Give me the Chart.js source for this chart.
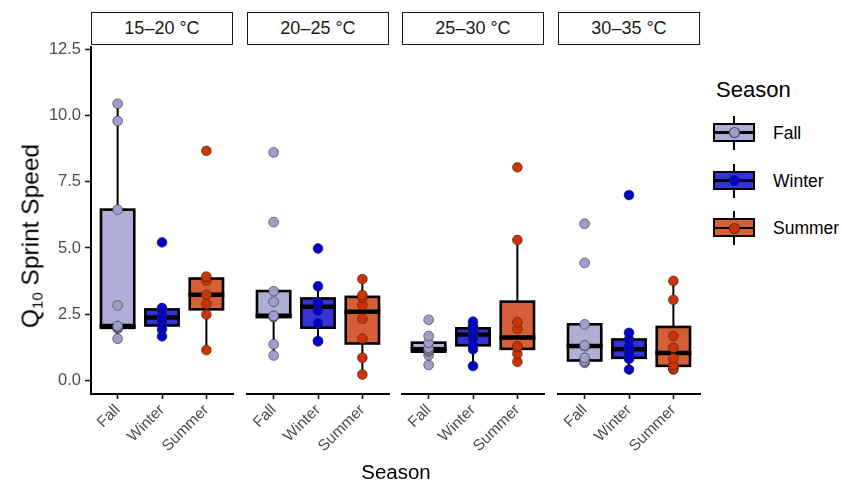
<!DOCTYPE html>
<html>
<head>
<meta charset="utf-8">
<script src="https://cdn.jsdelivr.net/npm/chart.js@4.4.1/dist/chart.umd.min.js"></script>
<style>
  html, body { margin: 0; padding: 0; background: #fff; }
  #wrap { position: relative; width: 842px; height: 488px; overflow: hidden; background: #fff;
          font-family: "Liberation Sans", Arial, sans-serif; }
  canvas.cv { position: absolute; }
  .strip { position: absolute; top: 12px; height: 33px; box-sizing: border-box; border: 1.6px solid #1a1a1a;
           background: #fff; display: flex; align-items: center; justify-content: center;
           font-size: 18px; color: #1a1a1a; }
  .ytitle { position: absolute; left: 31px; top: 236px; transform: translate(-50%, -50%) rotate(-90deg);
            white-space: nowrap; font-size: 24.5px; color: #000; }
  .ytitle sub { font-size: 15px; vertical-align: -4px; }
  .xtitle { position: absolute; left: 396px; top: 472px; transform: translate(-50%, -50%);
            font-size: 20.5px; color: #000; }
  .legtitle { position: absolute; left: 716px; top: 90px; transform: translateY(-50%); font-size: 22px; color: #000; }
  .legkey { position: absolute; width: 42px; height: 34px; }
  .legkey .wh { position: absolute; left: 20px; width: 2px; top: 0; height: 34px; background: #000; }
  .legkey .bx { position: absolute; left: 0; top: 7px; width: 42px; height: 19px; box-sizing: border-box; border: 2.5px solid #000; }
  .legkey .md { position: absolute; left: 0; top: 15.5px; width: 42px; height: 2.5px; background: #000; }
  .legkey .pt { position: absolute; left: 15.5px; top: 11.5px; width: 11px; height: 11px; box-sizing: border-box;
                border-radius: 50%; border: 1px solid rgba(40,40,40,0.75); }
  .leglab { position: absolute; left: 773px; transform: translateY(-50%); font-size: 17.5px; color: #000; }
</style>
</head>
<body>
<div id="wrap"></div>
<script>
// ---------------- data ----------------
const seasons = ['Fall', 'Winter', 'Summer'];
const tempRanges = ['15–20 °C', '20–25 °C', '25–30 °C', '30–35 °C'];
const yTicks = [0, 2.5, 5, 7.5, 10, 12.5];

// Q10 sprint speed per temperature range (one inner array per facet)
const fallQ10 = [
  [1.57, 1.95, 1.98, 2.02, 2.05, 2.83, 6.45, 9.8, 10.45],
  [0.93, 1.35, 2.37, 2.40, 2.42, 2.95, 3.35, 5.94, 8.56],
  [0.57, 0.94, 1.07, 1.12, 1.16, 1.22, 1.41, 1.66, 2.27],
  [0.65, 0.70, 0.74, 0.84, 1.28, 1.31, 2.10, 4.41, 5.88]
];
const winterQ10 = [
  [1.66, 1.92, 2.12, 2.30, 2.44, 2.66, 2.73, 5.21],
  [1.46, 1.47, 2.14, 2.62, 2.90, 2.92, 3.53, 4.95],
  [0.53, 1.16, 1.31, 1.57, 1.72, 1.82, 1.95, 2.04, 2.20],
  [0.40, 0.80, 0.84, 1.03, 1.16, 1.26, 1.53, 1.78, 6.96]
];
const summerQ10 = [
  [1.14, 2.48, 2.88, 3.23, 3.77, 3.92, 8.67],
  [0.21, 0.84, 1.56, 2.31, 2.83, 3.11, 3.20, 3.80],
  [0.69, 0.99, 1.24, 1.28, 1.92, 2.18, 5.27, 8.00],
  [0.40, 0.44, 0.57, 0.82, 1.22, 1.66, 3.02, 3.73]
];
const seriesValues = [fallQ10, winterQ10, summerQ10];

// ---------------- styles ----------------
const boxFill   = ['#b0aed6', '#3434d6', '#d65f38'];
const pointFill = ['#a09dcc', '#0000cc', '#cc3300'];

// ---------------- helpers ----------------
function quantile(sorted, p) {
  const h = (sorted.length - 1) * p;
  const lo = Math.floor(h), hi = Math.ceil(h);
  return sorted[lo] + (h - lo) * (sorted[hi] - sorted[lo]);
}
function boxStats(values) {
  const s = values.slice().sort((a, b) => a - b);
  const q1 = quantile(s, 0.25), med = quantile(s, 0.5), q3 = quantile(s, 0.75);
  const iqr = q3 - q1;
  const lo = s.filter(v => v >= q1 - 1.5 * iqr);
  const hi = s.filter(v => v <= q3 + 1.5 * iqr);
  return { q1, med, q3, wlo: Math.min(...lo), whi: Math.max(...hi) };
}

const boxPlugin = {
  id: 'boxes',
  beforeDatasetsDraw(chart) {
    const { ctx, scales: { x, y } } = chart;
    ctx.save();
    chart.data.datasets.forEach((ds) => {
      const st = ds.stats;
      const xc = x.getPixelForValue(ds.xPos);
      const xl = x.getPixelForValue(ds.xPos - 0.375);
      const xr = x.getPixelForValue(ds.xPos + 0.375);
      const yq1 = y.getPixelForValue(st.q1), yq3 = y.getPixelForValue(st.q3);
      const ym = y.getPixelForValue(st.med);
      ctx.strokeStyle = '#000';
      ctx.lineCap = 'butt';
      ctx.lineWidth = 2;
      ctx.beginPath();
      ctx.moveTo(xc, y.getPixelForValue(st.whi)); ctx.lineTo(xc, yq3);
      ctx.moveTo(xc, yq1); ctx.lineTo(xc, y.getPixelForValue(st.wlo));
      ctx.stroke();
      ctx.fillStyle = ds.boxColor;
      ctx.fillRect(xl, yq3, xr - xl, yq1 - yq3);
      ctx.lineWidth = 2.6;
      ctx.strokeRect(xl, yq3, xr - xl, yq1 - yq3);
      ctx.lineWidth = 4.5;
      ctx.beginPath();
      ctx.moveTo(xl - 1.3, ym); ctx.lineTo(xr + 1.3, ym);
      ctx.stroke();
    });
    ctx.restore();
  }
};

// ---------------- layout ----------------
const wrap = document.getElementById('wrap');
const panelLeft = [91, 247, 402, 558];
const panelW = 142;
const canvasTop = 33, canvasH = 431, padTop = 12, xAxisH = 70; // chart area: 45 .. 394

tempRanges.forEach((label, p) => {
  const strip = document.createElement('div');
  strip.className = 'strip';
  strip.style.left = panelLeft[p] + 'px';
  strip.style.width = panelW + 'px';
  strip.textContent = label;
  wrap.appendChild(strip);

  const first = p === 0;
  const padL = first ? 0 : 8, padR = 8;
  const cLeft = first ? 0 : panelLeft[p] - padL;
  const cW = first ? panelLeft[0] + panelW + padR : panelW + padL + padR;

  const cv = document.createElement('canvas');
  cv.className = 'cv';
  cv.width = cW; cv.height = canvasH;
  cv.style.left = cLeft + 'px'; cv.style.top = canvasTop + 'px';
  cv.style.width = cW + 'px'; cv.style.height = canvasH + 'px';
  wrap.appendChild(cv);

  const datasets = seasons.map((s, k) => ({
    label: s,
    data: seriesValues[k][p].map(v => ({ x: k + 1, y: v })),
    xPos: k + 1,
    stats: boxStats(seriesValues[k][p]),
    boxColor: boxFill[k],
    backgroundColor: pointFill[k],
    borderColor: 'rgba(40,40,40,0.7)',
    borderWidth: 0.8,
    pointRadius: 4.9,
    pointHoverRadius: 4.9,
    showLine: false
  }));

  new Chart(cv, {
    type: 'scatter',
    data: { datasets },
    plugins: [boxPlugin],
    options: {
      responsive: false,
      devicePixelRatio: 1,
      animation: false,
      events: [],
      layout: { padding: { top: padTop, bottom: 0, left: padL, right: padR } },
      plugins: { legend: { display: false }, tooltip: { enabled: false } },
      scales: {
        x: {
          type: 'linear', min: 0.4, max: 3.6,
          afterBuildTicks: (sc) => { sc.ticks = [1, 2, 3].map(v => ({ value: v })); },
          afterFit: (sc) => { sc.height = xAxisH; },
          grid: { display: true, drawOnChartArea: false, drawTicks: true, tickLength: 5, tickColor: '#1a1a1a', tickWidth: 1.6 },
          border: { display: true, color: '#000', width: 2 },
          ticks: {
            autoSkip: false, minRotation: 45, maxRotation: 45, padding: 2,
            color: '#4d4d4d', font: { family: 'Liberation Sans', size: 15.5 },
            callback: (v) => seasons[v - 1]
          }
        },
        y: {
          display: first,
          min: -0.52, max: 12.6,
          afterBuildTicks: (sc) => { sc.ticks = yTicks.map(v => ({ value: v })); },
          afterFit: (sc) => { if (first) sc.width = panelLeft[0]; },
          grid: { display: true, drawOnChartArea: false, drawTicks: true, tickLength: 6, tickColor: '#1a1a1a', tickWidth: 1.6 },
          border: { display: true, color: '#000', width: 2 },
          ticks: {
            padding: 4, color: '#4d4d4d', font: { family: 'Liberation Sans', size: 16.5 },
            callback: (v) => Number(v).toFixed(1)
          }
        }
      }
    }
  });
});

// titles
const yt = document.createElement('div');
yt.className = 'ytitle';
yt.innerHTML = 'Q<sub>10</sub> Sprint Speed';
wrap.appendChild(yt);

const xt = document.createElement('div');
xt.className = 'xtitle';
xt.textContent = 'Season';
wrap.appendChild(xt);

// legend
const lt = document.createElement('div');
lt.className = 'legtitle';
lt.textContent = 'Season';
wrap.appendChild(lt);
const legCenters = [132.5, 180.5, 228];
seasons.forEach((s, k) => {
  const key = document.createElement('div');
  key.className = 'legkey';
  key.style.left = '713px';
  key.style.top = (legCenters[k] - 17) + 'px';
  key.innerHTML = '<div class="wh"></div><div class="bx" style="background:' + boxFill[k] + '"></div><div class="md"></div>' +
                  '<div class="pt" style="background:' + pointFill[k] + '"></div>';
  wrap.appendChild(key);
  const lab = document.createElement('div');
  lab.className = 'leglab';
  lab.style.top = legCenters[k] + 'px';
  lab.textContent = s;
  wrap.appendChild(lab);
});
</script>
</body>
</html>
